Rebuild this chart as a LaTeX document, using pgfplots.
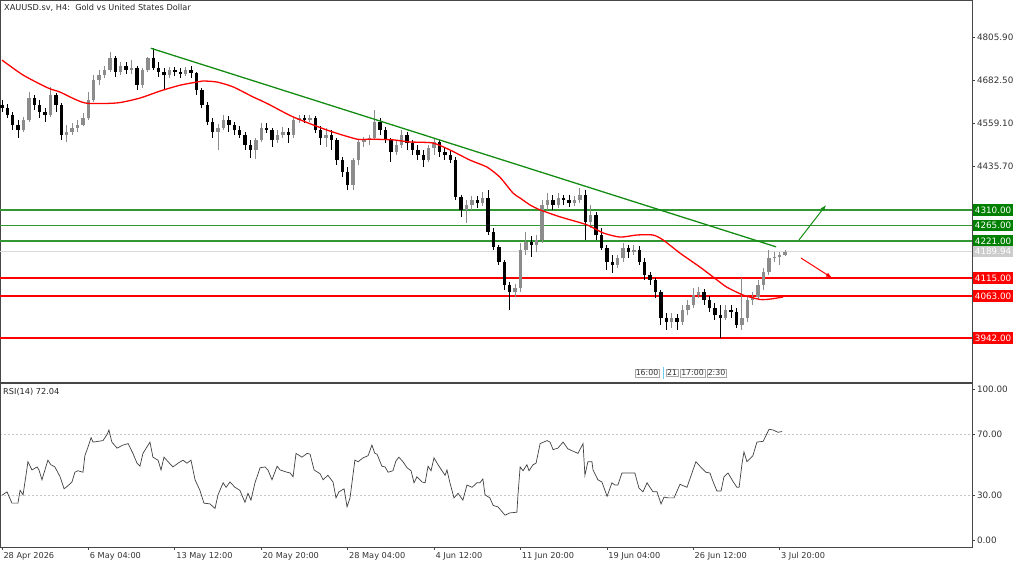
\documentclass[border=0pt]{standalone}
\usepackage{fontspec}
\setmainfont{DejaVu Sans}
\usepackage{pgfplots}
\usepackage{pgfplotstable}
\pgfplotsset{compat=1.18}
\usetikzlibrary{arrows.meta}
\definecolor{bullc}{RGB}{140,140,140}
\definecolor{framec}{RGB}{70,70,70}
\definecolor{lvgreen}{RGB}{0,128,0}
\definecolor{lngreen}{RGB}{50,150,50}
\definecolor{tlgreen}{RGB}{20,140,20}
\definecolor{lvred}{RGB}{255,0,0}

\pgfplotstableread{
b o h l c
0 4611 4625 4591 4602
2 4602 4614 4574 4582
4 4582 4591 4539 4554
6 4554 4568 4516 4539
8 4539 4577 4534 4568
10 4568 4648 4562 4631
12 4631 4640 4597 4611
14 4611 4625 4574 4591
16 4591 4602 4562 4582
18 4582 4663 4577 4640
20 4640 4646 4591 4611
22 4611 4617 4511 4525
24 4525 4554 4505 4534
26 4534 4559 4525 4545
28 4545 4568 4534 4554
30 4554 4588 4550 4574
32 4574 4648 4568 4625
34 4625 4697 4620 4683
36 4683 4711 4668 4697
38 4697 4723 4689 4711
40 4711 4763 4706 4746
42 4746 4752 4691 4706
44 4706 4734 4697 4723
46 4723 4734 4700 4711
48 4711 4740 4700 4717
50 4717 4723 4654 4668
52 4668 4717 4660 4711
54 4711 4749 4706 4746
56 4746 4775 4711 4717
58 4717 4734 4691 4706
60 4706 4717 4654 4697
62 4697 4720 4689 4711
64 4711 4720 4694 4706
66 4706 4717 4689 4700
68 4700 4720 4694 4711
70 4711 4723 4689 4703
72 4703 4706 4640 4654
74 4654 4660 4602 4611
76 4611 4620 4554 4562
78 4562 4574 4516 4534
80 4534 4556 4482 4545
82 4545 4582 4539 4568
84 4568 4580 4534 4554
86 4554 4562 4525 4539
88 4539 4551 4516 4525
90 4525 4534 4482 4496
92 4496 4511 4459 4482
94 4482 4516 4456 4511
96 4511 4559 4505 4545
98 4545 4559 4531 4539
100 4539 4545 4491 4511
102 4511 4539 4502 4525
104 4525 4548 4516 4534
106 4534 4545 4502 4525
108 4525 4574 4516 4568
110 4568 4582 4559 4574
112 4574 4582 4559 4568
114 4568 4582 4562 4574
116 4574 4580 4531 4539
118 4539 4551 4496 4516
120 4516 4545 4491 4525
122 4525 4539 4482 4511
124 4511 4516 4439 4453
126 4453 4462 4404 4419
128 4419 4433 4367 4381
130 4381 4459 4367 4453
132 4453 4511 4439 4505
134 4505 4519 4491 4511
136 4511 4525 4496 4516
138 4516 4597 4511 4562
140 4562 4574 4525 4539
142 4539 4548 4502 4511
144 4511 4516 4447 4476
146 4476 4511 4468 4496
148 4496 4539 4488 4525
150 4525 4534 4482 4502
152 4502 4511 4468 4482
154 4482 4496 4453 4468
156 4468 4482 4433 4453
158 4453 4496 4447 4488
160 4488 4516 4468 4505
162 4505 4511 4462 4476
164 4476 4488 4453 4468
166 4468 4482 4445 4453
168 4453 4462 4338 4347
170 4347 4353 4290 4310
172 4310 4338 4272 4324
174 4324 4350 4310 4338
176 4338 4350 4315 4330
178 4330 4361 4321 4344
180 4344 4367 4238 4247
182 4247 4258 4195 4203
184 4203 4209 4152 4160
186 4160 4166 4080 4094
188 4094 4103 4023 4074
190 4074 4097 4060 4086
192 4086 4215 4074 4195
194 4195 4247 4181 4218
196 4218 4235 4175 4209
198 4209 4238 4189 4223
200 4223 4338 4215 4324
202 4324 4359 4310 4338
204 4338 4353 4310 4324
206 4324 4359 4315 4344
208 4344 4353 4324 4338
210 4338 4353 4318 4330
212 4330 4350 4321 4338
214 4338 4373 4330 4353
216 4353 4367 4224 4275
218 4275 4324 4258 4295
220 4295 4304 4224 4238
222 4238 4258 4195 4201
224 4201 4209 4137 4160
226 4160 4181 4129 4152
228 4152 4181 4143 4172
230 4172 4215 4160 4201
232 4201 4209 4172 4189
234 4189 4209 4181 4195
236 4195 4206 4152 4160
238 4160 4172 4109 4123
240 4123 4132 4094 4109
242 4109 4115 4057 4074
244 4074 4080 3980 4000
246 4000 4014 3965 3988
248 3988 4014 3971 4000
250 4000 4011 3965 3988
252 3988 4037 3980 4023
254 4023 4051 4008 4037
256 4037 4086 4028 4066
258 4066 4089 4057 4074
260 4074 4083 4037 4051
262 4051 4063 4017 4028
264 4028 4043 3994 4008
266 4008 4037 3942 4000
268 4000 4037 3994 4023
270 4023 4037 4000 4017
272 4017 4028 3971 3980
274 3980 4115 3965 4000
276 4000 4066 3988 4051
278 4051 4074 4037 4060
280 4060 4109 4051 4094
282 4094 4143 4080 4132
284 4132 4195 4123 4172
286 4172 4189 4160 4175
288 4175 4189 4152 4181
290 4181 4195 4178 4190
}\candles

\pgfplotstableread{
b v
0 29.7
1.85 32
3.7 24.5
5.9 24.5
6.7 33
7.8 30
9.3 48
9.6 52
11.1 46.5
13.0 48.5
13.7 46.5
14.8 40
17.0 53
18.1 50
19.6 48.5
21.5 42
23.0 34
24.4 36
25.9 38.5
27.0 45
28.1 46
30.0 45
30.7 56
31.9 62
33.0 68
33.7 65
35.6 65.5
37.4 66
38.9 70
39.6 73
40.7 65
42.6 61
44.8 63
46.7 64
48.5 57.5
50.0 51
51.1 49
52.2 57.5
54.8 65
55.9 55
57.8 53
58.9 46.5
60.0 55
61.5 52
63.3 48.5
65.2 51
67.0 53
68.5 51
70.0 53
71.5 40
73.3 33
74.8 24.5
77.0 24
78.9 21
80.0 30
81.9 38
83.0 35
84.4 38.5
86.3 35
88.1 33
90.0 25
91.1 31
92.2 26.5
93.7 38
95.6 48
97.4 48.5
98.5 46.5
100.0 40
101.9 49
103.0 46.5
105.6 45
106.7 44.5
107.8 42
108.9 57.5
111.1 55
113.0 57.5
114.1 57
115.6 46.5
117.8 44
118.9 40
120.7 43
122.6 38.5
123.7 28
124.8 32
126.7 34
127.8 22
128.9 28
130.7 53
131.9 52
133.7 54.5
135.6 56
137.0 63
138.1 57.5
138.9 57
140.7 49
141.9 48.5
143.0 45
144.8 46
145.9 52.5
147.0 55
148.5 52
150.0 48
151.5 46
152.6 38
153.7 42
155.6 38.5
156.7 38
157.8 49
158.9 46
160.0 54.5
161.5 50
164.1 43
164.8 46.5
165.9 38
167.4 28
168.9 31
170.7 26.5
172.2 36.5
174.1 35
175.9 38
177.0 38
178.1 40.5
178.9 30
180.7 28
181.9 23
183.7 22
186.3 16.5
188.1 18
190.7 18.5
191.1 30
191.9 48.5
193.0 46
194.4 50
195.2 46
196.7 50
197.8 51
199.3 64
201.9 66
203.0 65
204.1 60
205.9 61
207.8 65
209.6 60.5
211.5 59
213.3 57.5
215.2 64
215.9 43
217.0 52
218.5 52
218.9 46.5
220.7 40
222.2 38.5
224.1 29
225.9 38
227.0 36.5
228.1 36.5
229.6 44.5
231.1 44.5
234.4 44.5
235.9 34.5
237.4 32
238.9 38
241.1 32
242.6 32
244.1 24
245.2 28.5
246.7 28
248.9 28
251.1 37
253.7 35
257.0 52
258.5 49
260.7 45
262.2 44.5
263.3 39
264.8 32.5
266.3 32.5
267.4 42
268.9 44.5
270.7 39
272.2 35
273.0 35
274.1 51
274.8 58.5
275.9 52
278.1 56
279.6 65
281.9 65.5
284.1 73.5
285.6 73
287.4 71.5
288.9 72
}\rsidata

\begin{document}
\begin{tikzpicture}
\path[use as bounding box] (0pt,0pt) rectangle (1024pt,563pt);
\tikzset{lbl/.style={anchor=west, inner xsep=1.5pt, inner ysep=1pt, minimum height=11.5pt, text=white, font=\fontsize{8.8}{10}\selectfont, xshift=1.2pt}}
\begin{axis}[
  at={(0pt,181pt)}, anchor=south west, scale only axis,
  width=972pt, height=382pt,
  xmin=-0.74, xmax=359.26, ymin=3816.1, ymax=4912.4,
  xtick=\empty,
  ytick={4805.9,4682.5,4559.1,4435.7},
  yticklabels={4805.90,4682.50,4559.10,4435.70},
  yticklabel pos=right, ytick pos=right,
  tick align=outside, major tick length=3pt,
  tick style={framec, line width=0.6pt},
  axis line style={framec, line width=0.8pt},
  yticklabel style={font=\fontsize{8.8}{10}\selectfont, text=black!80, xshift=-1.5pt},
  clip=false,
]
% horizontal levels
\addplot[gray!30, line width=1pt] coordinates {(-0.74,4189.94) (359.26,4189.94)};
\addplot[lngreen, line width=1.5pt] coordinates {(-0.74,4310) (359.26,4310)};
\addplot[lngreen, line width=1.5pt] coordinates {(-0.74,4265) (359.26,4265)};
\addplot[lngreen, line width=1.5pt] coordinates {(-0.74,4221) (359.26,4221)};
\addplot[lvred, line width=1.5pt] coordinates {(-0.74,4115) (359.26,4115)};
\addplot[lvred, line width=1.5pt] coordinates {(-0.74,4063) (359.26,4063)};
\addplot[lvred, line width=1.5pt] coordinates {(-0.74,3942) (359.26,3942)};
% candles: wicks
\addplot[bullc, line width=0.8pt, mark=none, quiver={u=0, v=\thisrow{h}-\thisrow{l}},
  restrict expr to domain={\thisrow{c}-\thisrow{o}}{0:100000}] table[x=b, y=l]{\candles};
\addplot[black, line width=0.8pt, mark=none, quiver={u=0, v=\thisrow{h}-\thisrow{l}},
  restrict expr to domain={\thisrow{c}-\thisrow{o}}{-100000:-0.5}] table[x=b, y=l]{\candles};
% candles: bodies
\addplot[bullc, line width=3.4pt, mark=none, quiver={u=0, v=\thisrow{c}-\thisrow{o}},
  restrict expr to domain={\thisrow{c}-\thisrow{o}}{0:100000}] table[x=b, y=o]{\candles};
\addplot[black, line width=3.4pt, mark=none, quiver={u=0, v=\thisrow{c}-\thisrow{o}},
  restrict expr to domain={\thisrow{c}-\thisrow{o}}{-100000:-0.5}] table[x=b, y=o]{\candles};
% moving average
\addplot[lvred, line width=1.3pt, smooth, tension=0.4] coordinates {
(0,4740) (7.8,4697) (17,4660) (21.5,4648) (30.7,4617) (42.6,4617) (51.1,4631)
(58.5,4651) (66,4668) (72.2,4677) (74.4,4680) (79.6,4677) (85.6,4663) (93,4634)
(95.6,4625) (99.3,4611) (107.8,4577) (120.4,4539) (131.5,4513) (136.3,4513)
(144.8,4511) (151.1,4505) (159.6,4502) (165.9,4482) (173.3,4453) (179.6,4433)
(184.4,4404) (189.3,4358) (191.9,4344) (195.6,4324) (199.3,4310) (206.7,4290)
(216.7,4267) (222.6,4244) (228.9,4232) (235.2,4238) (241.1,4238) (244.8,4224)
(251.1,4186) (258.5,4146) (264.8,4109) (268.5,4088) (274.4,4066) (280.7,4053)
(284.4,4054) (289.3,4060)};
% trend line
\addplot[tlgreen, line width=1.3pt] coordinates {(55.1,4774) (286.7,4204)};
% arrows
\addplot[tlgreen, line width=1pt, -{Latex[length=6pt,width=4.5pt]}] coordinates {(295.2,4224) (305.2,4324)};
\addplot[lvred, line width=1pt, -{Latex[length=6pt,width=4.5pt]}] coordinates {(295.9,4172) (307.4,4115)};
% price labels
\node[lbl, fill=lvgreen] at (axis cs:359.26,4310) {4310.00};
\node[lbl, fill=lvgreen] at (axis cs:359.26,4265) {4265.00};
\node[lbl, fill=lvgreen] at (axis cs:359.26,4221) {4221.00};
\node[lbl, fill=gray!40] at (axis cs:359.26,4189.94) {4189.94};
\node[lbl, fill=lvred] at (axis cs:359.26,4115) {4115.00};
\node[lbl, fill=lvred] at (axis cs:359.26,4063) {4063.00};
\node[lbl, fill=lvred] at (axis cs:359.26,3942) {3942.00};
\end{axis}

\begin{axis}[
  at={(0pt,16pt)}, anchor=south west, scale only axis,
  width=972pt, height=164pt,
  xmin=-0.74, xmax=359.26, ymin=-4.6, ymax=104.2,
  xtick={0,32,64,96,128,160,192,224,256,288},
  xticklabels={28 Apr 2026,6 May 04:00,13 May 12:00,20 May 20:00,28 May 04:00,4 Jun 12:00,11 Jun 20:00,19 Jun 04:00,26 Jun 12:00,3 Jul 20:00},
  xtick pos=bottom,
  xticklabel style={anchor=north west, xshift=-2pt, yshift=1pt, font=\fontsize{8.2}{9.5}\selectfont, text=black!80},
  ytick={30,70}, yticklabels={30.00,70.00},
  extra y ticks={0,100}, extra y tick labels={0.00,100.00},
  extra y tick style={grid=none},
  ymajorgrids,
  grid style={gray!45, dash pattern=on 2pt off 2pt, line width=0.5pt},
  yticklabel pos=right, ytick pos=right,
  tick align=outside, major tick length=3pt,
  tick style={framec, line width=0.6pt},
  axis line style={framec, line width=0.8pt},
  yticklabel style={font=\fontsize{8.8}{10}\selectfont, text=black!80, xshift=-1.5pt},
]
\addplot[black!75, line width=0.7pt] table[x=b, y=v]{\rsidata};
\end{axis}

% titles
\node[anchor=west, font=\fontsize{8.2}{9.5}\selectfont, text=black!85, inner sep=0pt] at (4pt,555pt) {XAUUSD.sv, H4:\ \ Gold vs United States Dollar};
\node[anchor=west, font=\fontsize{8.2}{9.5}\selectfont, text=black!85, inner sep=0pt] at (3pt,171pt) {RSI(14) 72.04};
% event markers
\begin{scope}[every node/.style={draw=gray!70, fill=white, inner xsep=1pt, inner ysep=0.8pt, font=\fontsize{7.8}{9}\selectfont, text=black!80}]
\node at (647pt,190pt) {16:00};
\node at (672pt,190pt) {21};
\node at (692.5pt,190pt) {17:00};
\node at (716.5pt,190pt) {2:30};
\end{scope}
\draw[cyan!60, line width=0.6pt] (663.5pt,184pt) -- (663.5pt,196pt);
\end{tikzpicture}
\end{document}
